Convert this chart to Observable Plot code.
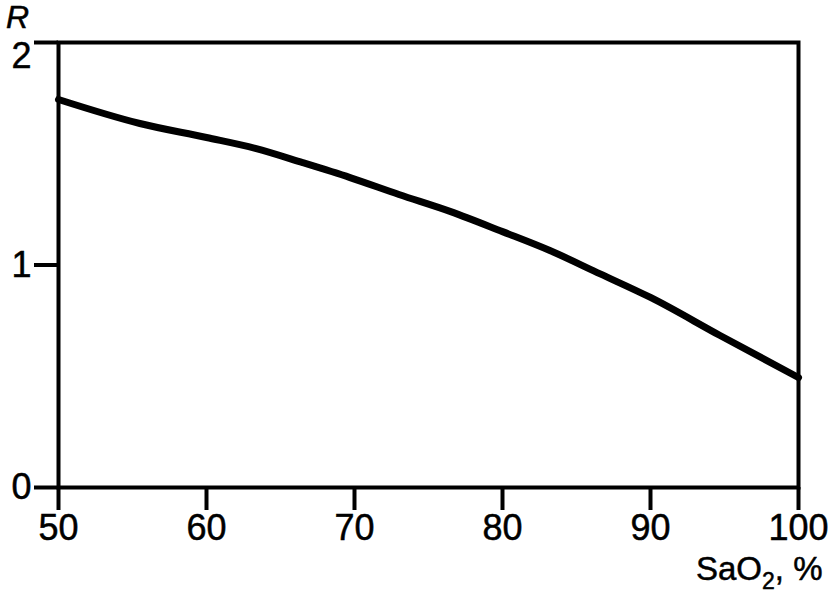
<!DOCTYPE html>
<html>
<head>
<meta charset="utf-8">
<script src="https://cdn.jsdelivr.net/npm/d3@7"></script>
<script src="https://cdn.jsdelivr.net/npm/@observablehq/plot@0.6"></script>
<style>
  html, body { margin: 0; padding: 0; background: white; }
  #chart svg text { stroke: black; stroke-width: 0.5px; }
</style>
</head>
<body>
<div id="chart"></div>
<script>
const sao2 = [50, 55.5, 60, 63.3, 66.5, 69.7, 73, 76.5, 80, 83.2, 86.6, 90, 94.7, 100];
const rValues = [1.744, 1.636, 1.573, 1.524, 1.46, 1.393, 1.317, 1.24, 1.15, 1.065, 0.96, 0.854, 0.683, 0.494];
const xTicks = [50, 60, 70, 80, 90, 100];
const yTicks = [0, 1, 2];
const xLabelParts = ["SaO", "2", ", %"];
const yLabel = "R";

const data = sao2.map((x, i) => ({x, r: rValues[i]}));
const yTop = yTicks[yTicks.length - 1];
const xLabel = xLabelParts.join("");

const chart = Plot.plot({
  width: 831,
  height: 597,
  marginLeft: 58,
  marginRight: 33,
  marginTop: 42,
  marginBottom: 110,
  style: {fontFamily: "'Liberation Sans', Arial, sans-serif", color: "black", background: "white"},
  x: {domain: [50, 100]},
  y: {domain: [0, 2]},
  marks: [
    Plot.axisX({ticks: xTicks, tickSize: 23, tickPadding: 4, fontSize: 36, strokeWidth: 4, label: null, tickFormat: d => String(d)}),
    Plot.axisY({ticks: yTicks.filter(d => d !== yTop), tickSize: 24, tickPadding: 3, fontSize: 36, strokeWidth: 4, label: null, tickFormat: d => String(d)}),
    Plot.axisY({ticks: [yTop], tickSize: 24, tickPadding: 3, fontSize: 36, strokeWidth: 4, label: null, lineAnchor: "top", dy: 0, tickFormat: d => String(d)}),
    Plot.frame({stroke: "black", strokeWidth: 4}),
    Plot.line(data, {x: "x", y: "r", stroke: "black", strokeWidth: 7, curve: "monotone-x"}),
    Plot.text([xLabel], {frameAnchor: "bottom-right", text: d => d, dx: 24, dy: 82, textAnchor: "end", lineAnchor: "middle", fontSize: 33, fill: "black", className: "xlabel"}),
    Plot.text([yLabel], {frameAnchor: "top-left", text: d => d, dx: -41, dy: -25, textAnchor: "middle", lineAnchor: "middle", fontSize: 32, fontStyle: "italic", fill: "black"})
  ]
});
document.getElementById("chart").appendChild(chart);

// turn the "2" of SaO2 into a real subscript
d3.select(chart).selectAll(".xlabel text").each(function() {
  const t = d3.select(this);
  t.text(null);
  t.append("tspan").text(xLabelParts[0]);
  t.append("tspan").attr("font-size", 23).attr("dy", 9).text(xLabelParts[1]);
  t.append("tspan").attr("dy", -9).text(xLabelParts[2]);
});
</script>
</body>
</html>
